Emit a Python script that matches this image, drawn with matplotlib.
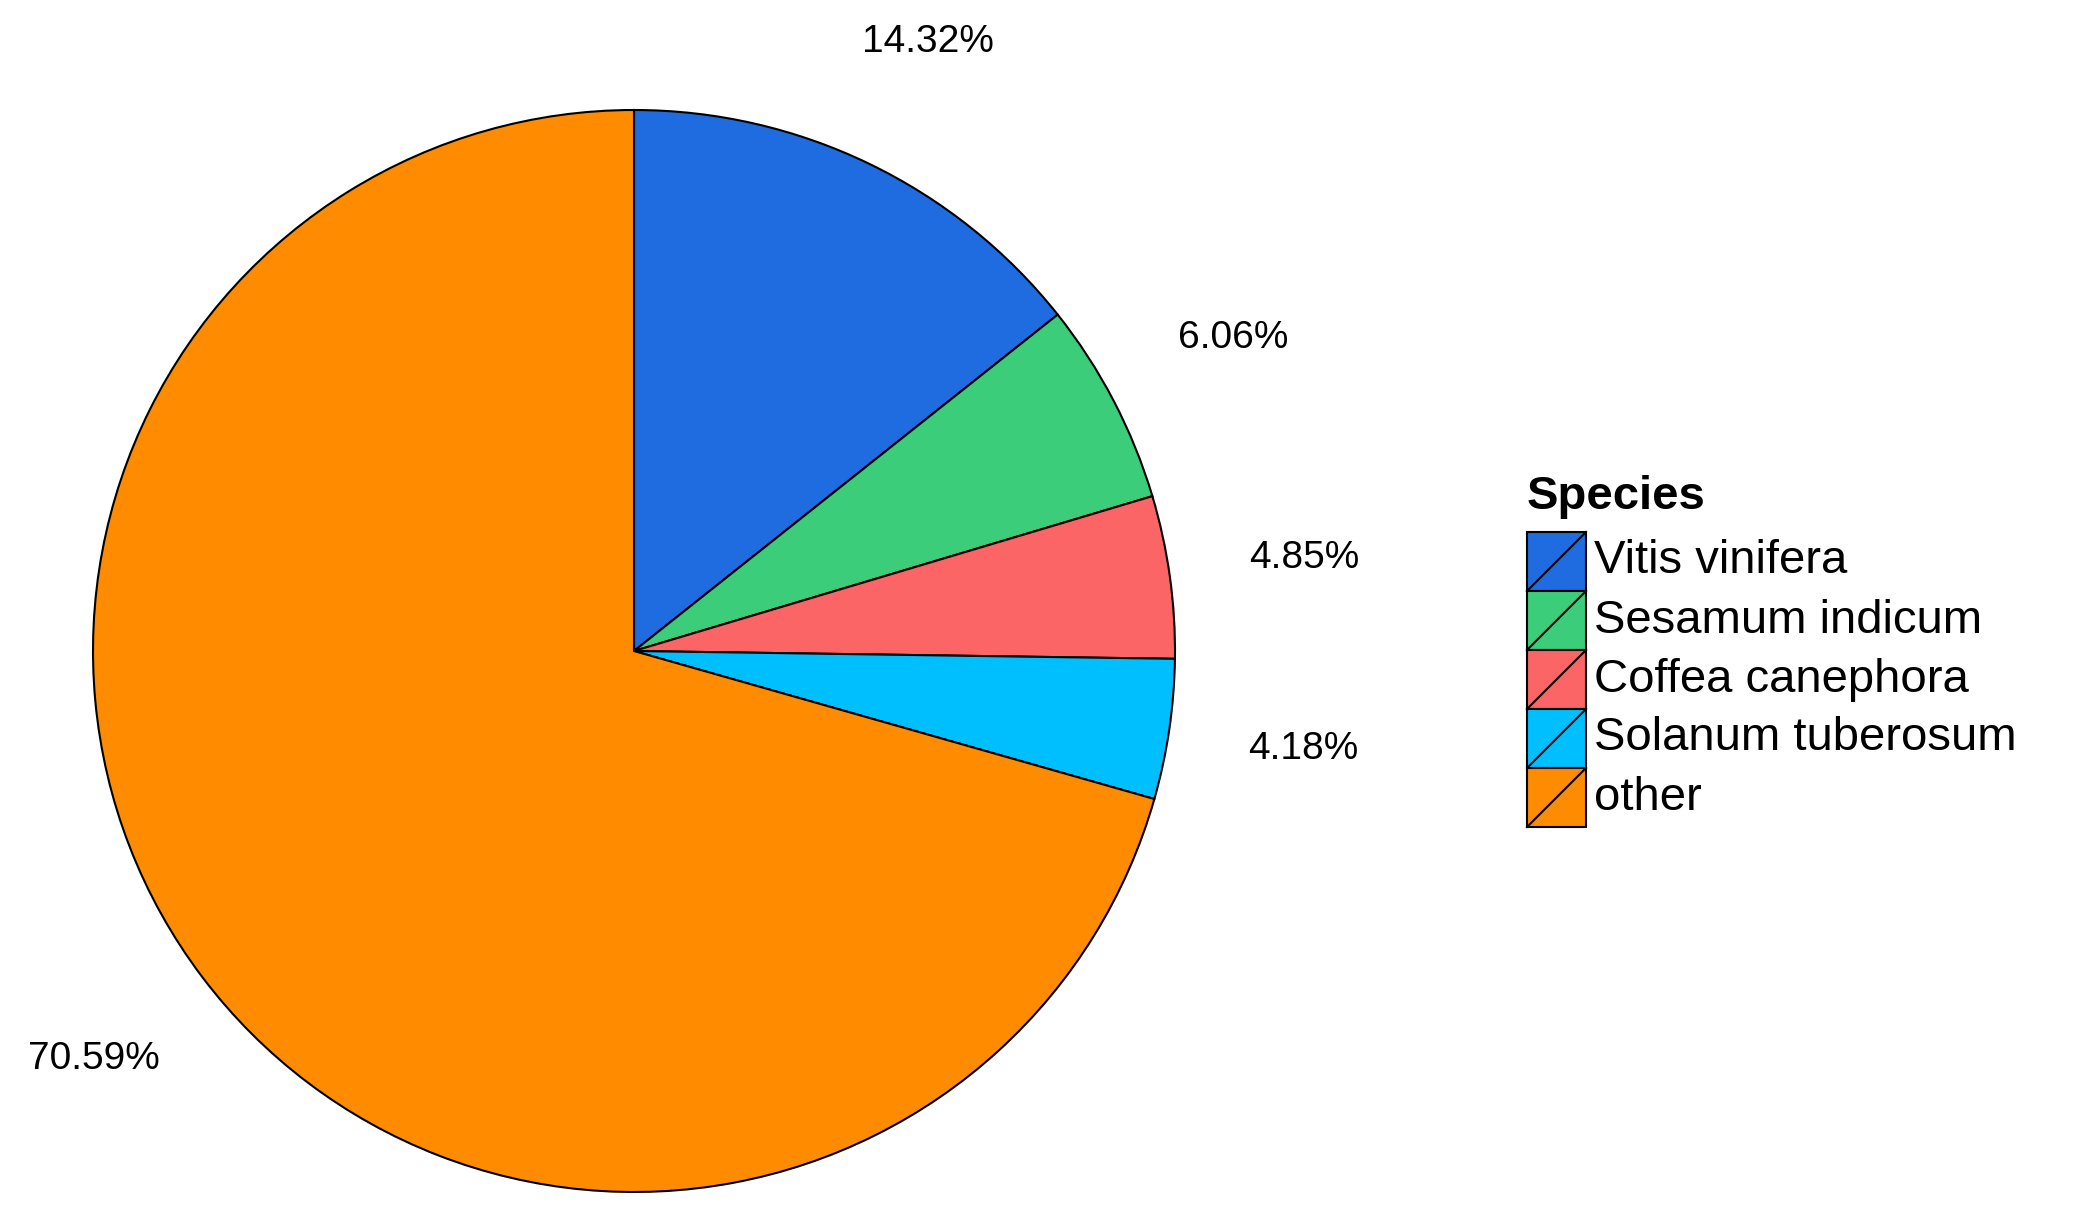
import matplotlib
matplotlib.use("Agg")
import matplotlib.pyplot as plt
from matplotlib.patches import Rectangle
from matplotlib.lines import Line2D

species = ["Vitis vinifera", "Sesamum indicum", "Coffea canephora", "Solanum tuberosum", "other"]
shares = [14.32, 6.06, 4.85, 4.18, 70.59]
colors = ["#1f6be0", "#3ccd7a", "#fc6565", "#00bfff", "#ff8c00"]

W, H = 2096, 1212
fig = plt.figure(figsize=(W / 100, H / 100), dpi=100)
plt.rcParams['font.family'] = ['Liberation Sans', 'DejaVu Sans']

# pie axes: center (634, 651) px, radius ~541 px
cx, cy, r = 634, 651, 541
ax = fig.add_axes([(cx - r) / W, (H - cy - r) / H, 2 * r / W, 2 * r / H])
wedges, texts = ax.pie(
    shares, colors=colors, startangle=90, counterclock=False,
    labels=[f"{s:.2f}%" for s in shares], labeldistance=1.25,
    wedgeprops=dict(edgecolor="black", linewidth=1.5),
    textprops=dict(fontsize=28, ha="center", va="center"),
)
ax.set_xlim(-1, 1)
ax.set_ylim(-1, 1)
ax.set_aspect("equal")
ax.axis("off")

# legend drawn by hand (ggplot style keys with a slash)
def fx(x):
    return x / W

def fy(y):
    return 1 - y / H

fig.text(fx(1527), fy(497), "Species", fontsize=34, fontweight="bold", va="center", ha="left")
key = 59
top = 532
for i, (name, col) in enumerate(zip(species, colors)):
    y0 = top + i * key
    fig.patches.append(Rectangle((fx(1527), fy(y0 + key)), key / W, key / H,
                                 facecolor=col, edgecolor="black", linewidth=1.5,
                                 transform=fig.transFigure))
    fig.lines.append(Line2D([fx(1527), fx(1527 + key)], [fy(y0 + key), fy(y0)],
                            color="black", linewidth=1.5, transform=fig.transFigure))
    fig.text(fx(1594), fy(y0 + key / 2), name, fontsize=34, va="center", ha="left")

fig.savefig("out.png", dpi=100, facecolor="white")
